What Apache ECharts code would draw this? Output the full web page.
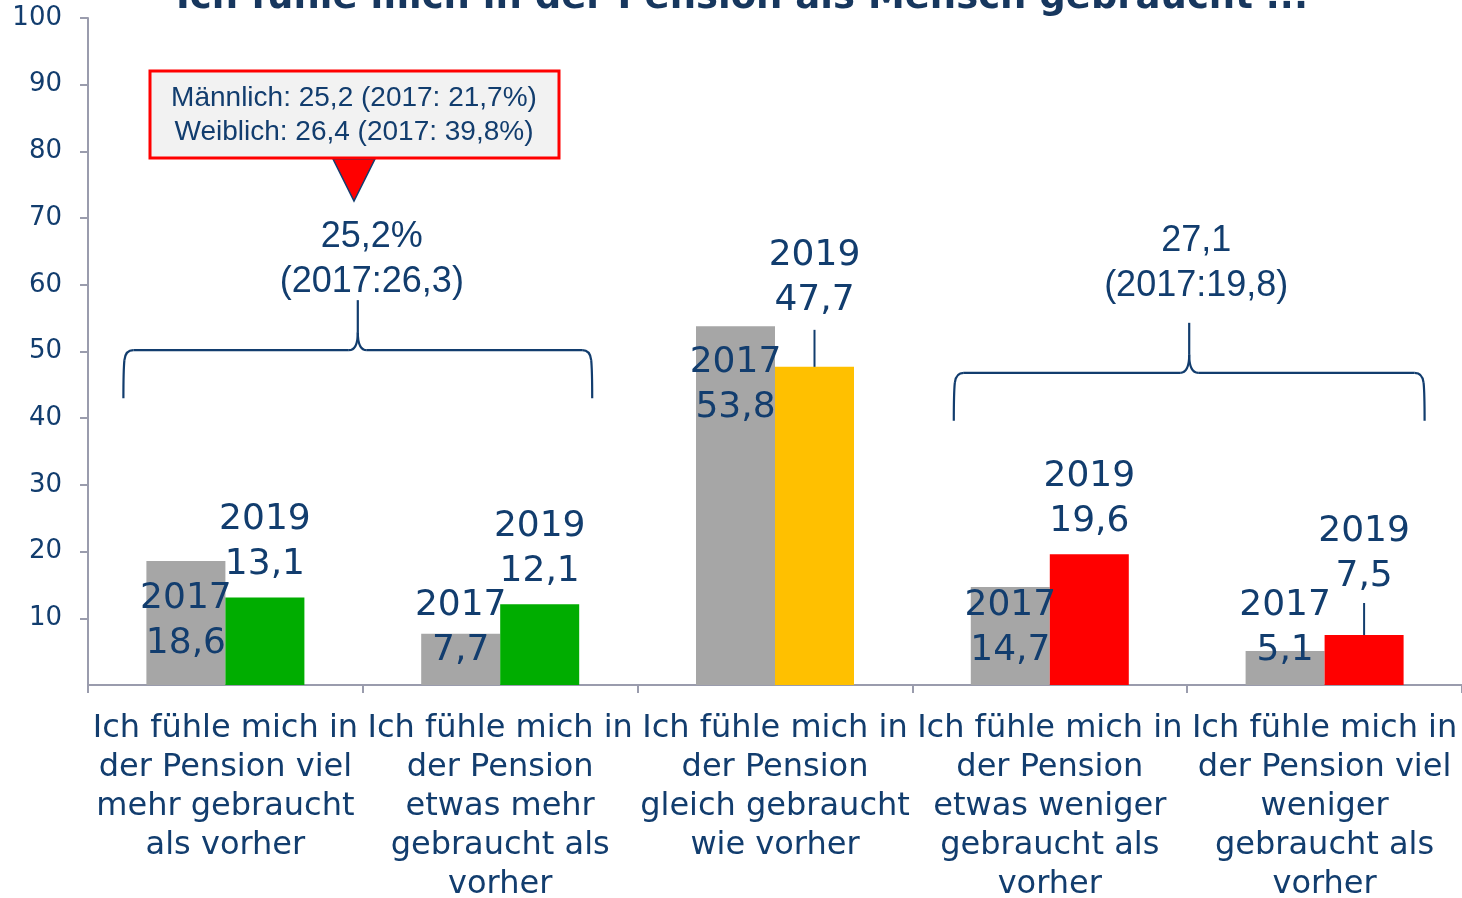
<!DOCTYPE html>
<html>
<head>
<meta charset="utf-8">
<script src="https://cdn.jsdelivr.net/npm/echarts@6/dist/echarts.min.js"></script>
<style>
  html, body { margin: 0; padding: 0; background: #fff; }
  #chart { width: 1462px; height: 898px; }
</style>
</head>
<body>
<div id="chart"></div>
<script>
  const title = 'Ich fühle mich in der Pension als Mensch gebraucht ...'
  const categories = [
    'Ich fühle mich in\nder Pension viel\nmehr gebraucht\nals vorher',
    'Ich fühle mich in\nder Pension\netwas mehr\ngebraucht als\nvorher',
    'Ich fühle mich in\nder Pension\ngleich gebraucht\nwie vorher',
    'Ich fühle mich in\nder Pension\netwas weniger\ngebraucht als\nvorher',
    'Ich fühle mich in\nder Pension viel\nweniger\ngebraucht als\nvorher'
  ]
  const years = ['2017', '2019']
  const values2017 = [18.6, 7.7, 53.8, 14.7, 5.1]
  const values2019 = [13.1, 12.1, 47.7, 19.6, 7.5]
  const colors2019 = ['#00ad00', '#00ad00', '#ffc000', '#ff0000', '#ff0000']
  const braceTexts = ['25,2%\n(2017:26,3)', '27,1\n(2017:19,8)']
  const calloutLines = ['Männlich: 25,2 (2017: 21,7%)', 'Weiblich: 26,4 (2017: 39,8%)']

  const navy = '#123d6e'
  const axisGrey = '#9a9cad'
  const fmt = v => v.toFixed(1).replace('.', ',')

  // where each label sits (2017 inside the grey bar, 2019 above the coloured bar)
  const pos2017 = [
    {position: 'insideBottom', distance: 19},
    {position: 'insideBottom', distance: 12},
    {position: 'insideTop', distance: 14},
    {position: 'insideBottom', distance: 12},
    {position: 'insideBottom', distance: 12}
  ]
  const leader2019 = [null, null, {gap: 7, len: 37}, null, {gap: 4, len: 32}]

  const richA = {fontSize: 36, lineHeight: 45, fontFamily: 'DejaVu Sans', color: navy}

  const chart = echarts.init(document.getElementById('chart'))
  chart.setOption({
    animation: false,
    grid: {left: 88, right: 0, top: 18, bottom: 213, outerBoundsMode: 'none', containLabel: false},
    xAxis: {
      type: 'category',
      data: categories,
      axisLine: {lineStyle: {color: axisGrey, width: 2}},
      axisTick: {show: true, length: 8, lineStyle: {color: axisGrey, width: 2}},
      axisLabel: {
        interval: 0, margin: 24, color: navy,
        fontFamily: 'DejaVu Sans', fontSize: 32, lineHeight: 39
      }
    },
    yAxis: {
      type: 'value', min: 0, max: 100, interval: 10,
      splitLine: {show: false},
      axisLine: {show: true, lineStyle: {color: axisGrey, width: 2}},
      axisTick: {show: true, length: 8, lineStyle: {color: axisGrey, width: 2}},
      axisLabel: {
        showMinLabel: false, margin: 26, color: navy,
        fontFamily: 'DejaVu Sans', fontSize: 26
      }
    },
    series: [
      {
        name: years[0], type: 'bar', barWidth: 79, barGap: 0,
        itemStyle: {color: '#a6a6a6'},
        label: {show: true, rich: {a: richA}},
        data: values2017.map((v, i) => ({
          value: v,
          label: {
            position: pos2017[i].position,
            distance: pos2017[i].distance,
            formatter: `{a|${years[0]}}\n{a|${fmt(v)}}`
          }
        }))
      },
      {
        name: years[1], type: 'bar', barWidth: 79, barGap: 0,
        label: {show: true, position: 'top', rich: {a: richA}},
        data: values2019.map((v, i) => {
          const ld = leader2019[i]
          let label = {distance: 10, formatter: `{a|${years[1]}}\n{a|${fmt(v)}}`}
          if (ld) {
            label = {
              distance: 0,
              formatter: `{a|${years[1]}}\n{a|${fmt(v)}}\n{g|}\n{l|}`,
              rich: {
                a: richA,
                g: {height: ld.gap, lineHeight: ld.gap},
                l: {width: 2, height: ld.len, lineHeight: ld.len, backgroundColor: navy}
              }
            }
          }
          return {value: v, itemStyle: {color: colors2019[i]}, label: label}
        })
      }
    ]
  })

  // annotations: braces, their texts, callout box, title
  const cx = i => chart.convertToPixel({xAxisIndex: 0}, i)
  const cy = v => chart.convertToPixel({yAxisIndex: 0}, v)
  const braceStyle = {stroke: navy, lineWidth: 2.2, fill: null}

  function braceParts(x1, x2, xm, yh, yb, yp) {
    const r = 10, k = 9, s = 18
    const ln = (a, b, c, d) => ({type: 'line', shape: {x1: a, y1: b, x2: c, y2: d}, style: braceStyle})
    const qc = (a, b, px, py, c, d) => ({type: 'bezierCurve', shape: {x1: a, y1: b, cpx1: px, cpy1: py, x2: c, y2: d}, style: braceStyle})
    return [
      qc(x1, yb, x1, yh + 2 * r, x1 + 1, yh + r),
      qc(x1 + 1, yh + r, x1 + 2, yh, x1 + r, yh),
      ln(x1 + r, yh, xm - k, yh),
      qc(xm - k, yh, xm, yh, xm, yh - s),
      ln(xm, yh - s, xm, yp),
      qc(xm, yh - s, xm, yh, xm + k, yh),
      ln(xm + k, yh, x2 - r, yh),
      qc(x2 - r, yh, x2 - 2, yh, x2 - 1, yh + r),
      qc(x2 - 1, yh + r, x2, yh + 2 * r, x2, yb)
    ]
  }

  const braces = [
    {x1: cx(0) - 102, x2: cx(1) + 92, xm: (cx(0) + cx(1)) / 2 - 5, yh: cy(50.2), yb: cy(43), yp: cy(57.7), text: braceTexts[0], tx: (cx(0) + cx(1)) / 2 + 9, ty: 260},
    {x1: cx(3) - 96, x2: cx(4) + 100, xm: (cx(3) + cx(4)) / 2 + 2, yh: cy(46.8), yb: cy(39.6), yp: cy(54.3), text: braceTexts[1], tx: (cx(3) + cx(4)) / 2 + 9, ty: 264}
  ]
  let graphic = []
  braces.forEach(b => {
    graphic = graphic.concat(braceParts(b.x1, b.x2, b.xm, b.yh, b.yb, b.yp))
    graphic.push({
      type: 'text', x: b.tx, y: b.ty,
      style: {
        text: b.text, fill: navy, align: 'center', verticalAlign: 'middle',
        font: '36px "Liberation Sans", Arial, sans-serif', lineHeight: 45
      }
    })
  })
  graphic.push({
    type: 'polygon',
    shape: {points: [[333, 159], [375, 159], [354, 201]]},
    style: {fill: '#ff0000', stroke: navy, lineWidth: 1.5}
  })
  graphic.push({
    type: 'rect',
    shape: {x: 150, y: 71, width: 409, height: 87},
    style: {fill: '#f2f2f2', stroke: '#ff0000', lineWidth: 3}
  })
  calloutLines.forEach((t, i) => {
    graphic.push({
      type: 'text', x: 354, y: 98 + i * 34,
      style: {
        text: t, fill: navy, align: 'center', verticalAlign: 'middle',
        font: '28px "Liberation Sans", Arial, sans-serif'
      }
    })
  })
  graphic.push({
    type: 'text', x: 742, y: -2,
    style: {
      text: title, fill: '#17375e', align: 'center', verticalAlign: 'middle',
      font: 'bold 37px "DejaVu Sans", Verdana, sans-serif'
    }
  })
  chart.setOption({graphic: graphic})
</script>
</body>
</html>
